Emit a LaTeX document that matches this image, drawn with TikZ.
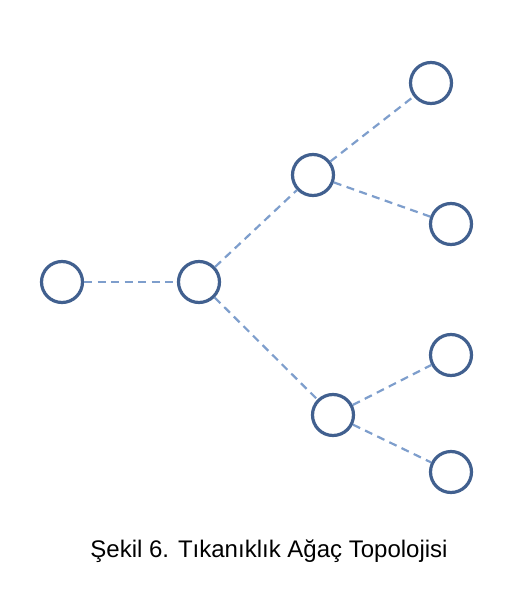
\documentclass[tikz,border=0pt]{standalone}
\usepackage{fontspec}
\setmainfont{Liberation Sans}
\definecolor{ringblue}{HTML}{41608F}
\definecolor{linkblue}{HTML}{7E9ECC}
\begin{document}
\begin{tikzpicture}[x=1pt,y=-1pt,
  netnode/.style={circle,draw=ringblue,line width=3.2pt,minimum size=41pt,inner sep=0pt,fill=white},
  link/.style={draw=linkblue,line width=2.2pt,dash pattern=on 8pt off 5.5pt}]
\useasboundingbox (0,0) rectangle (520,602);
\node[netnode] (a) at (62,282) {};
\node[netnode] (b) at (199,282) {};
\node[netnode] (c) at (313,175) {};
\node[netnode] (d) at (431,83) {};
\node[netnode] (e) at (451,224) {};
\node[netnode] (f) at (333,415) {};
\node[netnode] (g) at (451,355) {};
\node[netnode] (h) at (451,472) {};
\draw[link] (a) -- (b);
\draw[link] (b) -- (c);
\draw[link] (b) -- (f);
\draw[link] (c) -- (d);
\draw[link] (c) -- (e);
\draw[link] (f) -- (g);
\draw[link] (f) -- (h);
\node[anchor=base,font=\fontsize{24}{28}\selectfont,inner sep=0pt] (cap) at (269,557) {Şekil 6. Tıkanıklık Ağaç Topolojisi};
\end{tikzpicture}
\end{document}
